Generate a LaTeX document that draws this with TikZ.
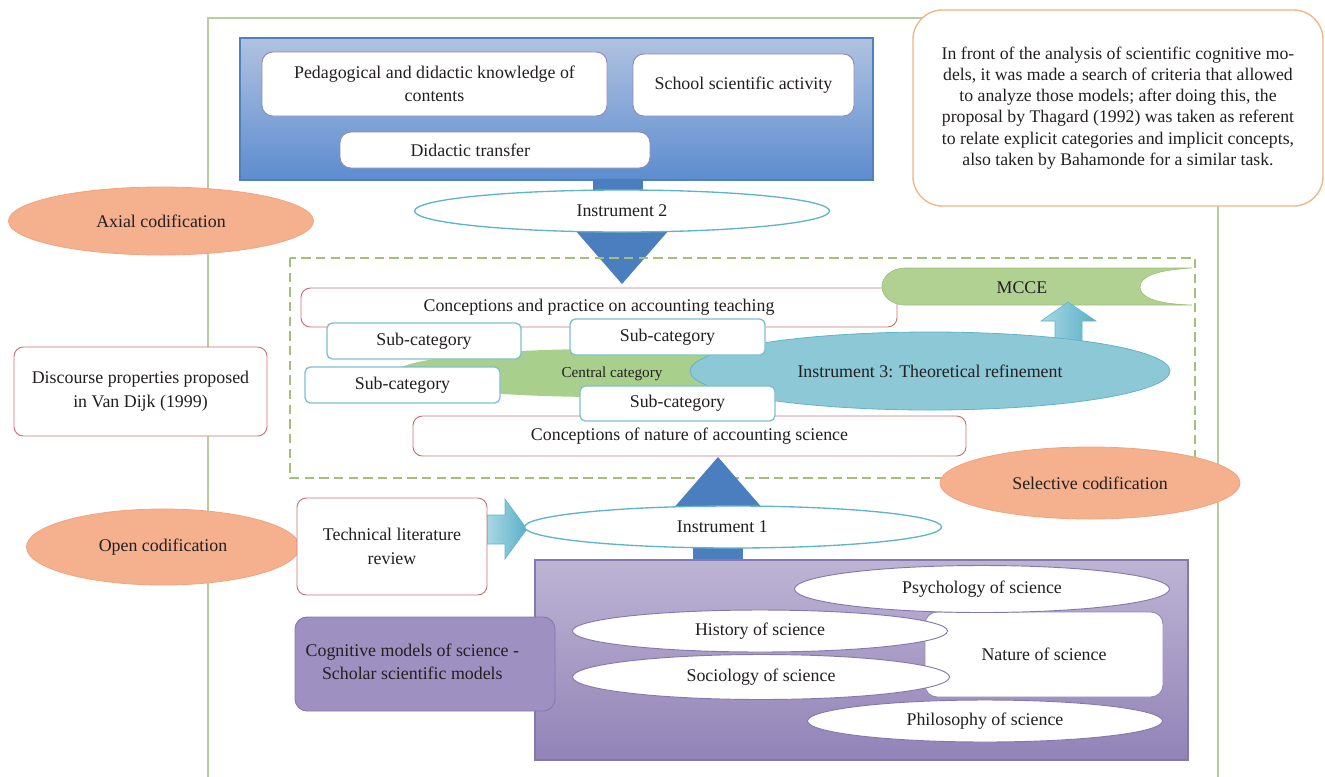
\documentclass[tikz,border=0pt]{standalone}
\usepackage{fontspec}
\setmainfont{Liberation Serif}
\usetikzlibrary{shapes.geometric}
\definecolor{framegreen}{HTML}{B5CFA0}
\definecolor{dashgreen}{HTML}{A3C07A}
\definecolor{salmonfill}{HTML}{F5B08E}
\definecolor{salmonline}{HTML}{F0A47E}
\definecolor{redline}{HTML}{C87476}
\definecolor{tealline}{HTML}{5EB4CA}
\definecolor{subline}{HTML}{7DBFD2}
\definecolor{tealfill}{HTML}{8DC8D6}
\definecolor{centralgreen}{HTML}{A9CF8C}
\definecolor{mccegreen}{HTML}{B1D192}
\definecolor{mcceline}{HTML}{9CC27C}
\definecolor{bluetop}{HTML}{B0C2E0}
\definecolor{bluebot}{HTML}{5D8CCF}
\definecolor{blueline}{HTML}{4F81BD}
\definecolor{bluearrow}{HTML}{4A7EBF}
\definecolor{purtop}{HTML}{BDB4D4}
\definecolor{purbot}{HTML}{9283B7}
\definecolor{purline}{HTML}{8677AE}
\definecolor{cogfill}{HTML}{9E91C1}
\definecolor{innerline}{HTML}{8E8AB8}
\definecolor{noteline}{HTML}{F0B485}
\definecolor{arrowlight}{HTML}{A8D8E4}
\definecolor{arrowdark}{HTML}{5AAFC7}
\definecolor{txt}{HTML}{231F20}
\begin{document}
\begin{tikzpicture}[x=0.75pt,y=-0.75pt,
  every node/.style={text=txt, font=\fontsize{13.4}{16}\selectfont, inner sep=0pt, align=center},
  sz/.style 2 args={minimum width={#1*0.75pt}, minimum height={#2*0.75pt}},
  rbox/.style={draw=redline, fill=white, rounded corners=7pt, line width=0.7pt},
  wbox/.style={draw=innerline, fill=white, rounded corners=8pt, line width=0.7pt},
  subbox/.style={draw=subline, fill=white, rounded corners=4pt, line width=1pt},
  salmon/.style={ellipse, draw=salmonline, fill=salmonfill, line width=0.6pt},
  instr/.style={ellipse, draw=tealline, fill=white, line width=1pt},
  pell/.style={ellipse, draw=purline, fill=white, line width=0.7pt},
]
\useasboundingbox (0,0) rectangle (1325,776);

% outer frame
\draw[framegreen, line width=1pt] (208,18) rectangle (1218,800);

% top blue box
\node[sz={633}{142}, draw=blueline, top color=bluetop, bottom color=bluebot, line width=0.8pt] (topbox) at (556.5,109) {};
\node[wbox, sz={345}{64}] (ped) at (434.5,84) {Pedagogical and didactic knowledge of\\[1pt]contents};
\node[wbox, sz={221}{62}] (school) at (743.5,85) {School scientific activity};
\node[wbox, sz={310}{36}] (dt) at (495,150) {\hspace*{-37pt}Didactic transfer};

% connector blue box -> Instrument 2 -> dashed area
\fill[bluearrow] (593,179) rectangle (643,202);
\fill[bluearrow] (575,230) -- (669,230) -- (622,284) -- cycle;
\node[instr, sz={415}{42}] (ins2) at (622,211) {Instrument 2};

% axial
\node[salmon, sz={305}{68}] (axial) at (161,221) {Axial codification};

% note
\node[draw=noteline, fill=white, line width=1pt, rounded corners=22pt, sz={410}{196},
      font=\fontsize{13.3}{15.9}\selectfont] (note) at (1118,108)
  {In front of the analysis of scientific cognitive mo-\\
   dels, it was made a search of criteria that allowed\\
   to analyze those models; after doing this, the\\
   proposal by Thagard (1992) was taken as referent\\
   to relate explicit categories and implicit concepts,\\
   also taken by Bahamonde for a similar task.};

% dashed area
\draw[dashgreen, line width=1pt, dash pattern=on 7pt off 4pt] (290,258) rectangle (1195,478);

\node[rbox, sz={596}{39}] (cpt) at (599,307.5) {Conceptions and practice on accounting teaching};

% MCCE band
\fill[mccegreen, draw=mcceline, line width=0.5pt] (1192,268) -- (905,268)
  arc[start angle=270, end angle=90, x radius=23, y radius=18.5]
  -- (1192,305) .. controls (1155,304) and (1140,297) .. (1140,287)
  .. controls (1140,277) and (1155,270) .. (1192,268);
\node (mcce) at (1022,288) {MCCE};

% small up arrow to MCCE
\shade[left color=arrowlight, right color=arrowdark, draw=tealline, line width=0.4pt]
  (1055,345) -- (1055,321) -- (1041,321) -- (1068,302) -- (1096,321) -- (1082,321) -- (1082,345) -- cycle;

% central category
\node[ellipse, fill=centralgreen, sz={420}{48}] (cc) at (605,373) {};
\node[ellipse, fill=tealfill, draw=tealline, line width=0.6pt, sz={480}{78}] (ins3) at (930,371) {Instrument 3: Theoretical refinement};

\node[rbox, sz={553}{40}] (cns) at (689.5,436) {Conceptions of nature of accounting science};

\node[subbox, sz={194}{36}] (s1) at (424,341) {Sub-category};
\node[subbox, sz={195}{36}] (s2) at (667.5,337) {Sub-category};
\node[subbox, sz={195}{36}] (s3) at (402.5,385) {Sub-category};
\node[subbox, sz={195}{35}] (s4) at (677.5,403.5) {Sub-category};
\node[font=\fontsize{11.4}{13}\selectfont] (cctext) at (612,374) {Central category};

% connector Instrument 1 up
\fill[bluearrow] (693,540) rectangle (743,561);
\fill[bluearrow] (718,457) -- (764,510) -- (672,510) -- cycle;

% selective
\node[salmon, sz={300}{72}] (sel) at (1090,483) {Selective codification};

% open codification and technical review
\node[salmon, sz={273}{76}] (open) at (163,547) {Open codification};
\node[rbox, sz={190}{97}] (tech) at (392,546.5) {Technical literature\\[2pt]review};
\shade[left color=arrowlight, right color=arrowdark, draw=tealline, line width=0.4pt]
  (tech.east |- 0,515) -- (505,515) -- (505,499) -- (527,529) -- (505,559) -- (505,544) -- (tech.east |- 0,544) -- cycle;
\node[instr, sz={417}{42}] (ins1) at (733,527) {\hspace*{-16pt}Instrument 1};

% discourse
\node[rbox, sz={253}{89}] (disc) at (140.5,391.5) {Discourse properties proposed\\[2pt]in Van Dijk (1999)};

% purple block
\node[sz={653}{200}, draw=purline, top color=purtop, bottom color=purbot, line width=0.8pt] (pur) at (861.5,660) {};
\node[sz={260}{94}, draw=purline, fill=cogfill, rounded corners=9pt, line width=0.7pt] (cog) at (425,664) {\hspace*{-19pt}\begin{tabular}{@{}c@{}}Cognitive models of science -\\[1pt]Scholar scientific models\end{tabular}};
\node[sz={238}{85}, draw=innerline, fill=white, rounded corners=9pt, line width=0.7pt] (nos) at (1044,654.5) {Nature of science};
\node[pell, sz={375}{47}] (psy) at (982,589) {Psychology of science};
\node[pell, sz={375}{42}] (his) at (760,631) {History of science};
\node[pell, sz={377}{45}] (soc) at (761,677) {Sociology of science};
\node[pell, sz={355}{42}] (phi) at (985,721) {Philosophy of science};
\end{tikzpicture}
\end{document}
